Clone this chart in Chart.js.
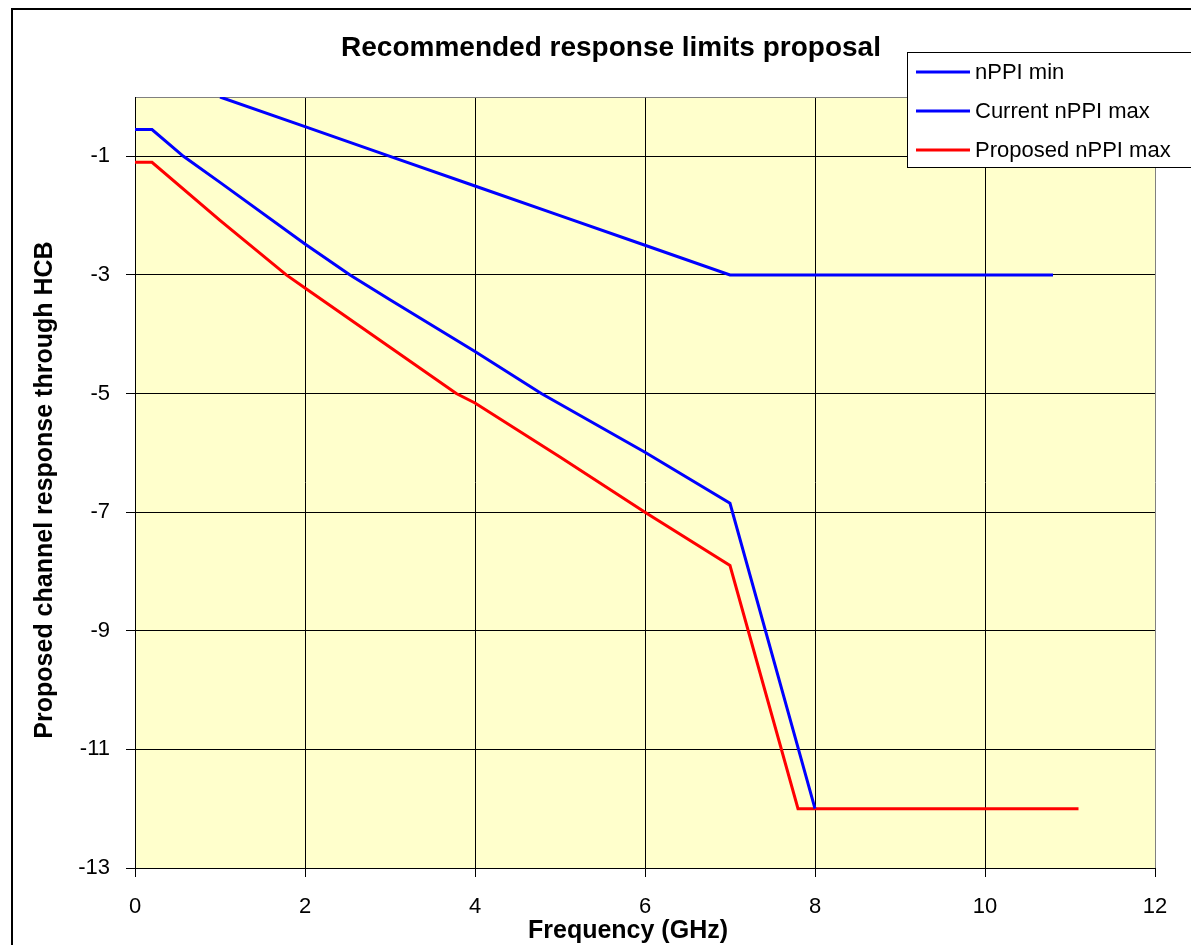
<!DOCTYPE html>
<html>
<head>
<meta charset="utf-8">
<script src="https://cdn.jsdelivr.net/npm/chart.js@4"></script>
<style>
  html, body { margin: 0; padding: 0; background: #fff; overflow: hidden; }
  canvas { display: block; }
</style>
</head>
<body>
<canvas id="responseChart" width="1191" height="945"></canvas>
<script>
// values
const minFreq = [1, 2, 3, 4, 5, 6, 7, 10.8];
const minValues = [0, -0.5, -1.0, -1.5, -2.0, -2.5, -3, -3];

const currentFreq = [0, 0.2, 0.57, 1, 2, 2.53, 3, 4, 4.78, 6, 7, 8];
const currentValues = [-0.55, -0.55, -1.0, -1.44, -2.48, -3.0, -3.42, -4.29, -5.0, -5.99, -6.85, -12];

const proposedFreq = [0, 0.2, 1, 1.78, 2, 3, 3.78, 4, 5, 6, 7, 7.8, 11.1];
const proposedValues = [-1.1, -1.1, -2.08, -3.0, -3.22, -4.22, -5.0, -5.16, -6.07, -7.0, -7.9, -12, -12];

const seriesLabels = ['nPPI min', 'Current nPPI max', 'Proposed nPPI max'];
const seriesColors = ['#0000FF', '#0000FF', '#FF0000'];

const xTicks = [0, 2, 4, 6, 8, 10, 12];
const yTicks = [-13, -11, -9, -7, -5, -3, -1, 0];

const chartTitle = 'Recommended response limits proposal';
const xTitle = 'Frequency (GHz)';
const yTitle = 'Proposed channel response through HCB';

const FONT = '"Liberation Sans", Arial, sans-serif';
Chart.defaults.font.family = FONT;
Chart.defaults.color = '#000';

const toPoints = (xs, ys) => xs.map((x, i) => ({ x: x, y: ys[i] }));

// excel-like frame: plot fill, outer border, titles, boxed legend
const excelFrame = {
    id: 'excelFrame',
    beforeDraw(chart) {
        const { ctx, chartArea } = chart;
        ctx.save();
        ctx.fillStyle = '#fff';
        ctx.fillRect(0, 0, chart.width, chart.height);
        ctx.fillStyle = '#FFFFCC';
        ctx.fillRect(chartArea.left, chartArea.top, chartArea.right - chartArea.left, chartArea.bottom - chartArea.top);
        ctx.strokeStyle = '#000';
        ctx.lineWidth = 2;
        ctx.strokeRect(12, 9, 1400, 1200);
        ctx.restore();
    },
    afterDraw(chart) {
        const { ctx } = chart;
        ctx.save();
        ctx.fillStyle = '#000';
        ctx.textAlign = 'center';
        ctx.textBaseline = 'middle';
        ctx.font = 'bold 28px ' + FONT;
        ctx.fillText(chartTitle, 611, 48);
        ctx.font = 'bold 25px ' + FONT;
        ctx.fillText(xTitle, 628, 931);
        ctx.translate(45, 490);
        ctx.rotate(-Math.PI / 2);
        ctx.fillText(yTitle, 0, 0);
        ctx.restore();

        // legend
        ctx.save();
        ctx.fillStyle = '#fff';
        ctx.fillRect(907.5, 52.5, 400, 115);
        ctx.strokeStyle = '#000';
        ctx.lineWidth = 1;
        ctx.strokeRect(907.5, 52.5, 400, 115);
        ctx.font = '22px ' + FONT;
        ctx.textAlign = 'left';
        ctx.textBaseline = 'middle';
        chart.data.datasets.forEach((ds, i) => {
            const y = 72 + i * 39;
            ctx.strokeStyle = ds.borderColor;
            ctx.lineWidth = 3;
            ctx.beginPath();
            ctx.moveTo(916, y);
            ctx.lineTo(970, y);
            ctx.stroke();
            ctx.fillStyle = '#000';
            ctx.fillText(ds.label, 975, y + 1);
        });
        ctx.restore();
    }
};

new Chart(document.getElementById('responseChart'), {
    type: 'line',
    data: {
        datasets: [
            { label: seriesLabels[0], data: toPoints(minFreq, minValues) },
            { label: seriesLabels[1], data: toPoints(currentFreq, currentValues) },
            { label: seriesLabels[2], data: toPoints(proposedFreq, proposedValues) }
        ].map((ds, i) => Object.assign(ds, {
            borderColor: seriesColors[i],
            backgroundColor: seriesColors[i],
            borderWidth: 3,
            pointRadius: 0,
            tension: 0,
            fill: false
        }))
    },
    options: {
        responsive: false,
        animation: false,
        devicePixelRatio: 1,
        layout: { padding: { top: 97, right: 36, bottom: 0, left: 0 } },
        plugins: {
            legend: { display: false },
            title: { display: false },
            tooltip: { enabled: false }
        },
        scales: {
            x: {
                type: 'linear',
                min: 0,
                max: 12,
                afterBuildTicks: axis => { axis.ticks = xTicks.map(v => ({ value: v })); },
                afterFit: axis => { axis.height = 77; },
                ticks: { font: { size: 22 }, color: '#000', padding: 17, maxRotation: 0 },
                grid: {
                    color: ctx => (ctx.tick && ctx.tick.value === 12 ? '#808080' : '#000'),
                    tickColor: '#000',
                    tickLength: 9,
                    lineWidth: 1
                },
                border: { color: '#000', width: 1 }
            },
            y: {
                type: 'linear',
                min: -13,
                max: 0,
                afterBuildTicks: axis => { axis.ticks = yTicks.map(v => ({ value: v })); },
                afterFit: axis => { axis.width = 135; },
                ticks: {
                    font: { size: 22 },
                    color: '#000',
                    padding: 16,
                    callback: v => (v === 0 ? '' : String(v))
                },
                grid: {
                    color: ctx => (ctx.tick && ctx.tick.value === 0 ? '#808080' : '#000'),
                    tickColor: ctx => (ctx.tick && ctx.tick.value === 0 ? 'rgba(0,0,0,0)' : '#000'),
                    tickLength: 9,
                    lineWidth: 1
                },
                border: { color: '#000', width: 1 }
            }
        }
    },
    plugins: [excelFrame]
});
</script>
</body>
</html>
